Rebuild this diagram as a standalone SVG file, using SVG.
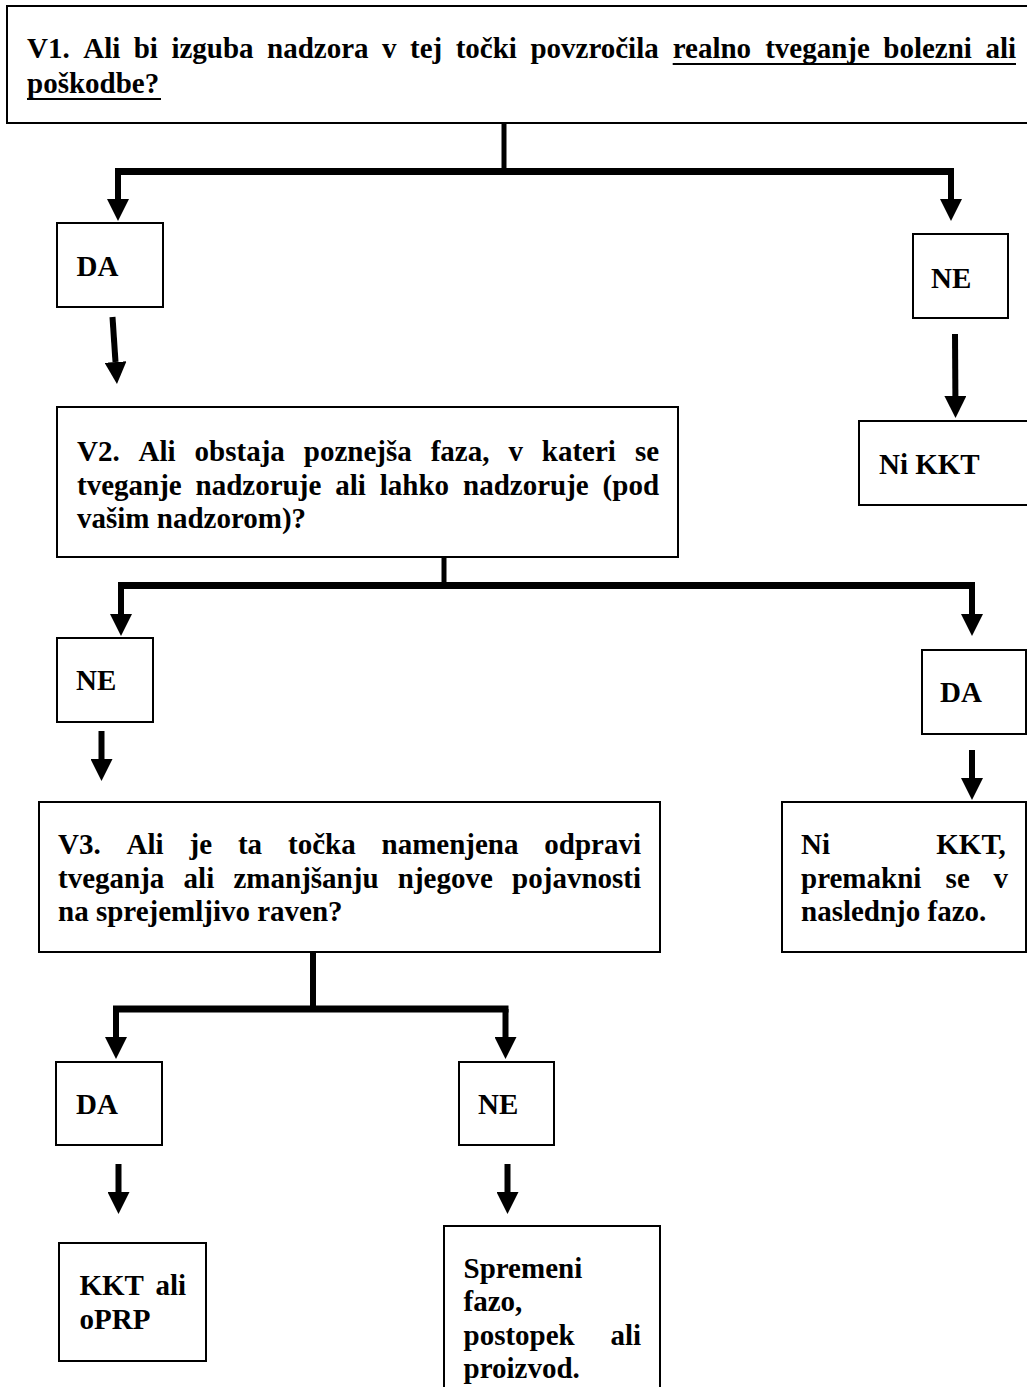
<svg xmlns="http://www.w3.org/2000/svg" width="1027" height="1387" viewBox="0 0 1027 1387">
<style>
.box{fill:#fff;stroke:#000;stroke-width:2}
.t{font-family:"Liberation Serif","Times New Roman",Times,serif;font-weight:bold;font-size:29px;fill:#000}
.ul{stroke:#000;stroke-width:2}
.trunk{stroke:#000;stroke-width:5;fill:none}
.bar{stroke:#000;stroke-width:7;fill:none}
.arr{stroke:#000;stroke-width:6;fill:none;marker-end:url(#ah)}
</style>
<defs>
<marker id="ah" markerUnits="userSpaceOnUse" markerWidth="22" markerHeight="22" viewBox="0 0 22 22" refX="0" refY="11" orient="auto"><path d="M0,0 L22,11 L0,22 Z" fill="#000"/></marker>
</defs>
<rect x="0" y="0" width="1027" height="1387" fill="#fff"/>

<g id="connectors">
<line class="trunk" x1="504" y1="123" x2="504" y2="171"/>
<line class="bar" x1="115" y1="171.5" x2="954" y2="171.5"/>
<line class="arr" x1="118" y1="171.5" x2="118" y2="199"/>
<line class="arr" x1="951" y1="171.5" x2="951" y2="199"/>
<line class="arr" x1="112.5" y1="317" x2="115.5" y2="362"/>
<line class="arr" x1="955" y1="334" x2="955.4" y2="396"/>

<line class="trunk" x1="444" y1="557" x2="444" y2="585"/>
<line class="bar" x1="118" y1="585.5" x2="975" y2="585.5"/>
<line class="arr" x1="121" y1="585.5" x2="121" y2="614"/>
<line class="arr" x1="972" y1="585.5" x2="972" y2="614"/>
<line class="arr" x1="101.5" y1="731" x2="101.5" y2="759"/>
<line class="arr" x1="972" y1="750" x2="972" y2="778"/>

<line class="trunk" style="stroke-width:6" x1="313" y1="952" x2="313" y2="1009"/>
<line class="bar" x1="113" y1="1009" x2="508.5" y2="1009"/>
<line class="arr" x1="116" y1="1009" x2="116" y2="1037"/>
<line class="arr" x1="505.5" y1="1009" x2="505.5" y2="1037"/>
<line class="arr" x1="118.5" y1="1164" x2="118.5" y2="1192"/>
<line class="arr" x1="507.5" y1="1164" x2="507.5" y2="1192"/>
</g>

<g id="v1">
<rect class="box" x="7" y="6" width="1040" height="117"/>
<text class="t" y="58"><tspan x="27">V1. </tspan><tspan x="83.2">Ali </tspan><tspan x="133.7">bi </tspan><tspan x="171.4">izguba </tspan><tspan x="267.1">nadzora </tspan><tspan x="382">v </tspan><tspan x="410">tej </tspan><tspan x="455.7">točki </tspan><tspan x="530.4">povzročila </tspan><tspan x="672.7">realno </tspan><tspan x="765.2">tveganje </tspan><tspan x="883.3">bolezni </tspan><tspan x="985.4">ali</tspan></text>
<text class="t" x="27" y="93">poškodbe?</text>
<line class="ul" x1="672.7" y1="64" x2="1016" y2="64"/>
<line class="ul" x1="27" y1="99" x2="161" y2="99"/>
</g>

<g id="da1">
<rect class="box" x="57" y="223" width="106" height="84"/>
<text class="t" x="76.5" y="276">DA</text>
</g>

<g id="ne1">
<rect class="box" x="913" y="234" width="95" height="84"/>
<text class="t" x="931" y="288">NE</text>
</g>

<g id="nikkt1">
<rect class="box" x="859" y="421" width="200" height="84"/>
<text class="t" x="879" y="474">Ni KKT</text>
</g>

<g id="v2">
<rect class="box" x="57" y="407" width="621" height="150"/>
<text class="t" y="461"><tspan x="77">V2. </tspan><tspan x="138.6">Ali </tspan><tspan x="194.6">obstaja </tspan><tspan x="303.8">poznejša </tspan><tspan x="430.7">faza, </tspan><tspan x="508.4">v </tspan><tspan x="541.8">kateri </tspan><tspan x="634.9">se</tspan></text>
<text class="t" y="494.5"><tspan x="77">tveganje </tspan><tspan x="195.6">nadzoruje </tspan><tspan x="335.2">ali </tspan><tspan x="379.8">lahko </tspan><tspan x="463">nadzoruje </tspan><tspan x="602.6">(pod</tspan></text>
<text class="t" x="77" y="528">vašim nadzorom)?</text>
</g>

<g id="ne2">
<rect class="box" x="57" y="638" width="96" height="84"/>
<text class="t" x="76" y="690">NE</text>
</g>

<g id="da2">
<rect class="box" x="922" y="650" width="104" height="84"/>
<text class="t" x="940" y="702">DA</text>
</g>

<g id="nikkt2">
<rect class="box" x="782" y="802" width="244" height="150"/>
<text class="t" y="854"><tspan x="801">Ni </tspan><tspan x="936.3">KKT,</tspan></text>
<text class="t" y="888"><tspan x="801">premakni </tspan><tspan x="945.6">se </tspan><tspan x="993.5">v</tspan></text>
<text class="t" x="801" y="921">naslednjo fazo.</text>
</g>

<g id="v3">
<rect class="box" x="39" y="802" width="621" height="150"/>
<text class="t" y="854"><tspan x="58">V3. </tspan><tspan x="126.6">Ali </tspan><tspan x="189.5">je </tspan><tspan x="237.9">ta </tspan><tspan x="288">točka </tspan><tspan x="381.5">namenjena </tspan><tspan x="544.3">odpravi</tspan></text>
<text class="t" y="888"><tspan x="58">tveganja </tspan><tspan x="183.6">ali </tspan><tspan x="233.5">zmanjšanju </tspan><tspan x="397.8">njegove </tspan><tspan x="512.1">pojavnosti</tspan></text>
<text class="t" x="58" y="921">na sprejemljivo raven?</text>
</g>

<g id="da3">
<rect class="box" x="56" y="1062" width="106" height="83"/>
<text class="t" x="76" y="1114">DA</text>
</g>

<g id="ne3">
<rect class="box" x="459" y="1062" width="95" height="83"/>
<text class="t" x="478" y="1114">NE</text>
</g>

<g id="kkt">
<rect class="box" x="59" y="1243" width="147" height="118"/>
<text class="t" y="1295"><tspan x="79.5">KKT </tspan><tspan x="155.4">ali</tspan></text>
<text class="t" x="79.5" y="1328.5">oPRP</text>
</g>

<g id="spremeni">
<rect class="box" x="444" y="1226" width="216" height="200"/>
<text class="t" x="463.5" y="1277.5">Spremeni</text>
<text class="t" x="463.5" y="1311">fazo,</text>
<text class="t" y="1344.5"><tspan x="463.5">postopek </tspan><tspan x="610.4">ali</tspan></text>
<text class="t" x="463.5" y="1378">proizvod.</text>
</g>
</svg>
